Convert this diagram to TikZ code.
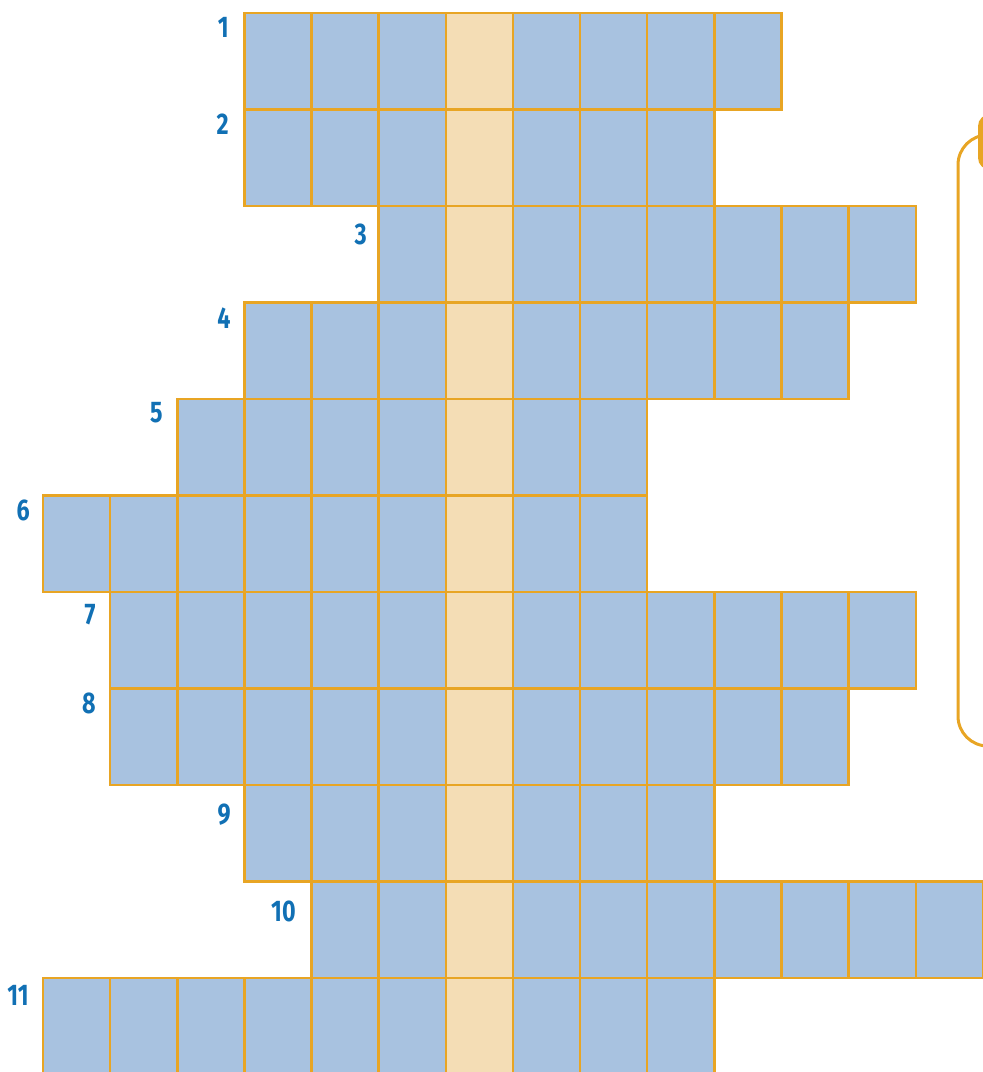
\documentclass[tikz,border=0pt]{standalone}
\usepackage{fontspec}
\newfontfamily\numfont{Fira Sans}[FakeStretch=0.78]
\definecolor{cellblue}{HTML}{A8C2E0}
\definecolor{cellkey}{HTML}{F4DDB5}
\definecolor{gridorange}{HTML}{E8A524}
\definecolor{numblue}{HTML}{1170B4}
\begin{document}
\begin{tikzpicture}[x=0.02cm,y=-0.02cm,
  cell/.style={draw=gridorange,line width=1.4pt,fill=cellblue},
  keycell/.style={cell,fill=cellkey},
  num/.style={font=\numfont\bfseries\fontsize{17}{17}\selectfont,text=numblue,anchor=east,inner sep=0pt}]
\useasboundingbox (0,0) rectangle (983,1072);
\clip (0,0) rectangle (983,1072);
% grid rows: row/first column/last column
\foreach \r/\a/\b in {1/3/10,2/3/9,3/5/12,4/3/11,5/2/8,6/0/8,7/1/12,8/1/11,9/3/9,10/4/13,11/0/9}{
  \foreach \c in {\a,...,\b}{
    \ifnum\c=6
      \draw[keycell] ({43+67.14*\c},{13+96.5*(\r-1)}) rectangle +(67.14,96.5);
    \else
      \draw[cell] ({43+67.14*\c},{13+96.5*(\r-1)}) rectangle +(67.14,96.5);
    \fi
  }
}
% clue numbers
\node[num] (n1) at (229,27) {1};
\node[num] (n2) at (229,124) {2};
\node[num] (n3) at (367,234) {3};
\node[num] (n4) at (231,318) {4};
\node[num] (n5) at (163,413) {5};
\node[num] (n6) at (30,510) {6};
\node[num] (n7) at (96,615) {7};
\node[num] (n8) at (96,703) {8};
\node[num] (n9) at (231,815) {9};
\node[num] (n10) at (296,911) {10};
\node[num] (n11) at (29,995) {11};
% side box
\draw[gridorange,line width=1.7pt,rounded corners=17pt] (958,135) rectangle (1100,746);
\fill[gridorange,rounded corners=7pt] (978,114) rectangle (1050,170);
\end{tikzpicture}
\end{document}
